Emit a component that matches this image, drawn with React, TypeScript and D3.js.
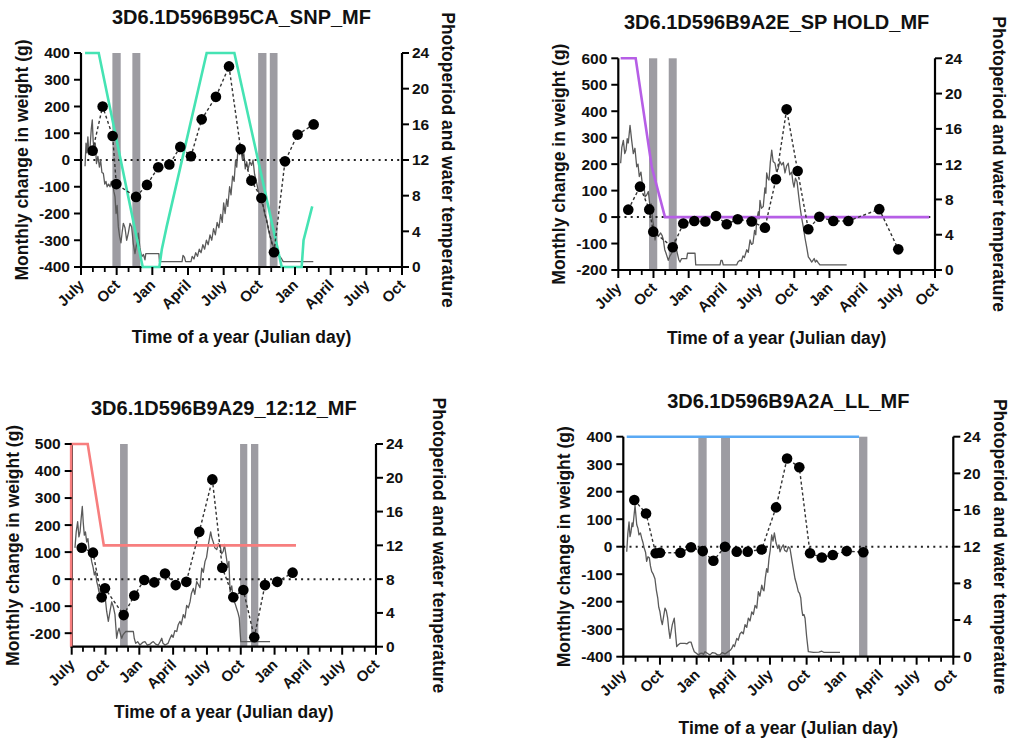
import React from "react";
import * as d3 from "d3";

// Month offsets are counted from the 1st of July of the first year (0..27).
const monthTickLabels = ["July", "Oct", "Jan", "April", "July", "Oct", "Jan", "April", "July", "Oct"];
const rightTicks = [0, 4, 8, 12, 16, 20, 24];

// ---- 3D6.1D596B95CA_SNP_MF ----
const snpWeight: [number, number][] = [
  [0.98, 35], [1.82, 200], [2.66, 90], [2.97, -90], [4.63, -138], [5.55, -93], [6.5, -27],
  [7.43, -17], [8.35, 49], [9.25, 14], [10.15, 152], [11.35, 236], [12.45, 350], [13.43, 41],
  [14.33, -77], [15.17, -142], [16.23, -345], [17.16, -5], [18.22, 95], [19.57, 133],
];
const snpPhoto: [number, number][] = [
  [0.34, 24], [1.49, 24], [5.19, 0], [6.59, 0], [6.8, 2.0], [7.2, 4.5], [10.57, 24], [12.9, 24],
  [16.88, 0], [18.56, 0], [18.72, 3.0], [19.45, 6.8],
];
const snpTemp: [number, number][] = [
  [0.34, 11.3], [0.42, 13.9], [0.5, 12.8], [0.58, 14.6], [0.66, 12.6], [0.76, 13.4], [0.86, 15.4],
  [0.95, 16.5], [1.02, 14.2], [1.1, 13.0], [1.2, 13.9], [1.3, 11.6], [1.42, 12.4], [1.55, 11.2],
  [1.65, 12.0], [1.76, 10.6], [1.88, 10.5], [2.0, 9.3], [2.1, 9.6], [2.2, 9.0], [2.32, 9.3],
  [2.44, 9.0], [2.55, 9.6], [2.67, 9.4], [2.76, 8.5], [2.86, 7.9], [2.95, 6.0], [3.04, 6.9],
  [3.14, 4.5], [3.25, 3.4], [3.36, 2.7], [3.46, 3.9], [3.56, 4.9], [3.7, 4.4], [3.84, 3.0],
  [3.98, 3.8], [4.12, 4.9], [4.26, 4.5], [4.4, 2.6], [4.54, 1.5], [4.68, 2.6], [4.82, 3.8],
  [4.95, 2.2], [5.1, 1.15], [5.25, 1.4], [5.38, 0.8], [5.45, 1.5], [6.55, 1.5], [6.6, 0.6],
  [8.5, 0.6], [8.58, 1.3], [8.7, 1.1], [8.8, 0.6], [9.25, 0.6], [9.35, 1.2], [9.5, 0.9],
  [9.65, 1.6], [9.8, 1.2], [9.95, 2.0], [10.1, 1.6], [10.25, 2.5], [10.4, 2.0], [10.55, 3.0],
  [10.7, 2.5], [10.85, 3.6], [11.0, 3.0], [11.15, 4.3], [11.3, 3.6], [11.45, 5.0], [11.6, 4.4],
  [11.75, 5.9], [11.88, 5.0], [12.0, 7.2], [12.12, 6.0], [12.25, 7.6], [12.35, 6.8], [12.5, 9.0],
  [12.62, 8.1], [12.75, 10.2], [12.88, 9.6], [13.0, 12.0], [13.1, 11.2], [13.22, 13.6],
  [13.32, 12.6], [13.45, 13.1], [13.58, 12.0], [13.7, 12.7], [13.82, 11.0], [13.94, 11.8],
  [14.05, 10.9], [14.2, 11.8], [14.35, 11.4], [14.47, 12.0], [14.6, 10.4], [14.78, 9.4],
  [14.9, 8.6], [15.05, 7.9], [15.2, 7.2], [15.33, 6.8], [15.48, 5.8], [15.62, 5.3], [15.76, 4.2],
  [15.9, 3.4], [16.05, 2.8], [16.18, 2.3], [16.32, 1.9], [16.46, 1.5], [16.6, 1.3], [16.74, 1.15],
  [16.88, 0.9], [17.01, 0.6], [19.54, 0.6],
];
const snpBars: [number, number][] = [[2.64, 3.34], [4.32, 4.99], [14.9, 15.6], [15.88, 16.53]];

// ---- 3D6.1D596B9A2E_SP HOLD_MF ----
const holdWeight: [number, number][] = [
  [0.85, 28], [1.85, 115], [2.64, 29], [2.98, -55], [4.64, -114], [5.54, -24], [6.48, -15],
  [7.42, -17], [8.33, 4], [9.24, -27], [10.18, -8], [11.37, -17], [12.5, -40], [13.44, 143],
  [14.35, 407], [15.29, 174], [16.2, -46], [17.14, 1], [18.33, -15], [19.61, -15], [22.25, 30],
  [23.87, -122],
];
const holdPhoto: [number, number][] = [[0.2, 24], [1.48, 24], [2.85, 11.7], [3.98, 6], [26.5, 6]];
const holdTemp: [number, number][] = [
  [0.2, 12.1], [0.3, 13.9], [0.43, 14.7], [0.55, 13.2], [0.66, 13.6], [0.76, 14.9], [0.85, 14.4],
  [1.0, 16.4], [1.14, 14.7], [1.28, 13.2], [1.42, 13.8], [1.57, 11.7], [1.68, 12.0], [1.79, 10.6],
  [1.93, 11.1], [2.08, 9.4], [2.18, 9.7], [2.28, 8.3], [2.42, 8.5], [2.56, 8.9], [2.7, 7.2],
  [2.8, 7.5], [2.93, 5.7], [3.03, 4.8], [3.13, 3.4], [3.27, 4.3], [3.41, 3.8], [3.61, 4.2],
  [3.74, 3.9], [3.84, 3.4], [3.96, 2.3], [4.07, 1.9], [4.26, 1.1], [4.4, 1.6], [4.55, 1.9],
  [4.7, 2.6], [4.83, 3.4], [4.93, 2.5], [5.03, 1.9], [5.15, 1.2], [5.26, 0.9], [5.4, 1.3],
  [5.83, 1.3], [5.9, 1.9], [6.54, 1.9], [6.6, 0.57], [8.67, 0.57], [8.75, 1.1], [8.85, 1.1],
  [8.95, 0.57], [10.09, 0.57], [10.2, 0.9], [10.37, 1.1], [10.5, 1.0], [10.63, 1.6], [10.75, 1.4],
  [10.95, 2.3], [11.08, 2.0], [11.23, 3.4], [11.36, 2.9], [11.48, 3.0], [11.62, 4.5],
  [11.72, 4.0], [11.8, 5.7], [11.94, 6.6], [12.0, 5.8], [12.08, 7.9], [12.2, 7.0], [12.36, 7.2],
  [12.5, 9.3], [12.58, 8.7], [12.65, 11.0], [12.75, 10.4], [12.85, 10.2], [12.96, 12.2],
  [13.08, 13.6], [13.2, 12.3], [13.36, 12.1], [13.48, 11.2], [13.61, 11.4], [13.78, 12.3],
  [13.93, 11.9], [14.07, 12.2], [14.21, 11.0], [14.35, 11.8], [14.49, 12.1], [14.62, 10.8],
  [14.78, 11.1], [14.88, 10.0], [14.98, 9.4], [15.1, 10.4], [15.24, 10.0], [15.36, 8.6],
  [15.49, 7.2], [15.62, 6.0], [15.77, 4.9], [15.92, 3.6], [16.06, 2.6], [16.2, 1.5],
  [16.35, 1.2], [16.49, 0.9], [16.7, 1.3], [16.8, 0.9], [16.91, 1.1], [17.05, 0.8], [17.2, 0.57],
  [19.47, 0.57],
];
const holdBars: [number, number][] = [[2.62, 3.32], [4.3, 4.98]];

// ---- 3D6.1D596B9A29_12:12_MF ----
const ldWeight: [number, number][] = [
  [0.89, 116], [1.89, 98], [2.66, -67], [2.95, -34], [4.61, -133], [5.55, -61], [6.44, -3],
  [7.33, -12], [8.28, 21], [9.23, -22], [10.17, -10], [11.32, 175], [12.48, 369], [13.36, 42],
  [14.34, -67], [15.23, -40], [16.2, -215], [17.15, -22], [18.24, -10], [19.6, 24],
];
const ldPhoto: [number, number][] = [[-0.05, 0], [-0.05, 24], [1.42, 24], [2.85, 12], [19.9, 12]];
const ldTemp: [number, number][] = [
  [0.29, 11.7], [0.4, 13.6], [0.53, 14.8], [0.64, 13.0], [0.74, 13.6], [0.84, 15.2], [0.94, 16.6],
  [1.03, 14.6], [1.12, 13.2], [1.22, 13.6], [1.33, 12.4], [1.44, 12.8], [1.54, 11.5], [1.66, 11.2],
  [1.77, 10.1], [1.9, 9.4], [2.01, 8.5], [2.12, 8.9], [2.22, 7.7], [2.32, 7.2], [2.42, 6.5],
  [2.55, 6.0], [2.66, 5.3], [2.8, 5.8], [2.95, 6.1], [3.1, 4.2], [3.25, 3.0], [3.4, 4.2],
  [3.55, 5.3], [3.7, 4.7], [3.84, 3.8], [3.92, 2.3], [3.99, 1.0], [4.1, 1.8], [4.2, 2.2],
  [4.32, 1.5], [4.44, 1.0], [4.55, 1.4], [4.67, 1.6], [4.8, 1.8], [5.47, 1.8], [5.55, 1.0],
  [5.68, 0.4], [5.85, 0.6], [6.06, 0.2], [6.3, 0.5], [6.5, 0.6], [6.7, 0.2], [6.95, 0.3],
  [7.1, 0.5], [7.24, 0.6], [7.45, 0.3], [7.68, 0.2], [7.85, 0.6], [7.99, 1.0], [8.1, 0.4],
  [8.28, 0.2], [8.55, 0.4], [8.7, 0.9], [8.87, 1.4], [9.0, 1.1], [9.15, 1.9], [9.32, 1.8],
  [9.45, 2.6], [9.61, 3.0], [9.72, 2.6], [9.9, 3.8], [10.05, 3.4], [10.2, 4.9], [10.35, 4.6],
  [10.5, 5.3], [10.62, 6.3], [10.79, 6.9], [10.92, 6.2], [11.09, 7.7], [11.22, 7.4], [11.38, 7.0],
  [11.54, 9.3], [11.68, 8.8], [11.83, 10.1], [11.97, 10.6], [12.12, 12.05], [12.22, 12.8],
  [12.33, 13.6], [12.45, 12.8], [12.56, 12.4], [12.7, 11.7], [12.87, 11.5], [13.0, 12.2],
  [13.16, 12.0], [13.3, 11.0], [13.45, 11.3], [13.55, 12.1], [13.65, 11.2], [13.75, 10.3],
  [13.85, 9.4], [13.95, 10.1], [14.05, 6.5], [14.2, 7.2], [14.34, 5.5], [14.5, 5.1],
  [14.64, 4.5], [14.76, 4.0], [14.87, 3.4], [14.95, 1.6], [15.0, 0.6], [17.6, 0.6],
];
const ldBars: [number, number][] = [[4.29, 4.97], [14.94, 15.58], [15.91, 16.56]];

// ---- 3D6.1D596B9A2A_LL_MF ----
const llWeight: [number, number][] = [
  [0.9, 170], [1.86, 121], [2.65, -24], [3.0, -22], [4.67, -22], [5.54, -2], [6.5, -16],
  [7.37, -51], [8.32, 0], [9.28, -18], [10.18, -18], [11.32, -10], [12.5, 143], [13.4, 321],
  [14.4, 289], [15.28, -24], [16.24, -39], [17.14, -30], [18.28, -16], [19.64, -20],
];
const llPhoto: [number, number][] = [[0.28, 24], [19.29, 24]];
const llTemp: [number, number][] = [
  [0.28, 11.45], [0.37, 13.4], [0.47, 14.7], [0.55, 13.1], [0.63, 13.6], [0.72, 14.6],
  [0.79, 14.2], [0.96, 16.5], [1.1, 14.4], [1.2, 14.0], [1.28, 13.3], [1.4, 13.5], [1.51, 12.9],
  [1.62, 12.4], [1.72, 11.8], [1.82, 11.4], [1.91, 10.4], [2.02, 10.9], [2.13, 10.8],
  [2.22, 9.9], [2.32, 9.3], [2.45, 9.0], [2.59, 8.5], [2.7, 7.3], [2.82, 6.4], [2.9, 5.4],
  [3.0, 4.9], [3.1, 4.0], [3.19, 3.5], [3.3, 4.4], [3.41, 5.3], [3.52, 5.0], [3.63, 4.2],
  [3.72, 3.0], [3.82, 2.0], [3.92, 2.8], [4.01, 3.5], [4.1, 3.9], [4.17, 4.2], [4.27, 2.6],
  [4.37, 1.1], [4.5, 1.3], [4.64, 1.45], [5.05, 1.45], [5.2, 1.4], [5.4, 1.6], [5.54, 1.6],
  [5.68, 1.0], [5.81, 0.55], [5.95, 0.4], [6.14, 0.2], [6.3, 0.35], [6.44, 0.4], [6.55, 0.25],
  [6.69, 0.55], [6.9, 0.35], [7.09, 0.2], [7.3, 0.45], [7.5, 0.4], [7.7, 0.2], [7.91, 0.2],
  [8.1, 0.45], [8.32, 0.3], [8.59, 0.55], [8.75, 0.7], [8.87, 0.9], [9.0, 1.3], [9.1, 1.1],
  [9.28, 2.0], [9.4, 1.8], [9.55, 2.5], [9.69, 2.7], [9.82, 2.5], [9.96, 3.5], [10.1, 3.2],
  [10.23, 4.2], [10.37, 3.9], [10.51, 4.9], [10.64, 4.6], [10.78, 5.6], [10.92, 5.3],
  [11.05, 7.1], [11.18, 6.6], [11.33, 7.8], [11.43, 7.3], [11.51, 7.2], [11.62, 8.6],
  [11.73, 9.6], [11.82, 9.2], [11.92, 10.7], [12.02, 11.6], [12.14, 13.3], [12.25, 12.6],
  [12.36, 13.5], [12.5, 12.4], [12.64, 11.8], [12.73, 12.2], [12.82, 11.45], [12.95, 11.9],
  [13.09, 12.2], [13.2, 11.6], [13.37, 11.45], [13.5, 12.0], [13.64, 11.8], [13.75, 10.9],
  [13.86, 10.0], [13.96, 9.2], [14.05, 8.5], [14.18, 7.9], [14.32, 7.1], [14.42, 6.9],
  [14.52, 6.4], [14.6, 5.2], [14.68, 4.5], [14.78, 4.6], [14.87, 4.2], [15.0, 2.2],
  [15.14, 0.55], [15.55, 0.48], [16.0, 0.5], [16.24, 0.6], [16.4, 0.48], [17.73, 0.48],
];
const llBars: [number, number][] = [[6.14, 6.82], [8.0, 8.73], [19.29, 19.97]];

type PanelCfg = {
  title: string;
  left: number; right: number; top: number; bottom: number;
  yDomain: [number, number];
  yTicks: number[];
  photoColor: string;
  weight: [number, number][];
  photo: [number, number][];
  temp: [number, number][];
  bars: [number, number][];
  xTitleDy: number;
  rightLabelDx: number;
};

const panels: PanelCfg[] = [
  {
    title: "3D6.1D596B95CA_SNP_MF",
    left: 81, right: 402, top: 53, bottom: 267,
    yDomain: [-400, 400], yTicks: d3.range(-400, 401, 100),
    photoColor: "#45e3b3",
    weight: snpWeight, photo: snpPhoto, temp: snpTemp, bars: snpBars,
    xTitleDy: 70, rightLabelDx: 46,
  },
  {
    title: "3D6.1D596B9A2E_SP HOLD_MF",
    left: 618.3, right: 935, top: 58.3, bottom: 270,
    yDomain: [-200, 600], yTicks: d3.range(-200, 601, 100),
    photoColor: "#b65ee6",
    weight: holdWeight, photo: holdPhoto, temp: holdTemp, bars: holdBars,
    xTitleDy: 68, rightLabelDx: 64,
  },
  {
    title: "3D6.1D596B9A29_12:12_MF",
    left: 71.7, right: 376, top: 444, bottom: 646.7,
    yDomain: [-250, 500], yTicks: d3.range(-200, 501, 100),
    photoColor: "#f77e7e",
    weight: ldWeight, photo: ldPhoto, temp: ldTemp, bars: ldBars,
    xTitleDy: 65, rightLabelDx: 63,
  },
  {
    title: "3D6.1D596B9A2A_LL_MF",
    left: 623.3, right: 953.3, top: 436.7, bottom: 656.7,
    yDomain: [-400, 400], yTicks: d3.range(-400, 401, 100),
    photoColor: "#5aa9f4",
    weight: llWeight, photo: llPhoto, temp: llTemp, bars: llBars,
    xTitleDy: 71, rightLabelDx: 47,
  },
];

const FONT = "'Liberation Sans', Arial, Helvetica, sans-serif";

function Panel({ cfg }: { cfg: PanelCfg }) {
  const x = d3.scaleLinear().domain([0, 27]).range([cfg.left, cfg.right]);
  const yL = d3.scaleLinear().domain(cfg.yDomain).range([cfg.bottom, cfg.top]);
  const yR = d3.scaleLinear().domain([0, 24]).range([cfg.bottom, cfg.top]);

  const rightLine = d3.line<[number, number]>().x((d) => x(d[0])).y((d) => yR(d[1]));
  const leftLine = d3.line<[number, number]>().x((d) => x(d[0])).y((d) => yL(d[1]));

  const midY = (cfg.top + cfg.bottom) / 2;
  const midX = (cfg.left + cfg.right) / 2;
  const majorMonths = d3.range(0, 28, 3);
  const minorMonths = d3.range(0, 28, 1).filter((m) => m % 3 !== 0);

  return (
    <g fontFamily={FONT} fontWeight="bold" fill="#111">
      {/* spawning / handling periods */}
      {cfg.bars.map((b, i) => (
        <rect key={i} x={x(b[0])} y={cfg.top} width={x(b[1]) - x(b[0])}
          height={cfg.bottom - cfg.top} fill="#9d9ca2" />
      ))}
      {/* zero reference */}
      <line x1={cfg.left} x2={cfg.right} y1={yL(0)} y2={yL(0)} stroke="#222"
        strokeWidth={2} strokeDasharray="2,4.2" />
      {/* water temperature */}
      <path d={rightLine(cfg.temp) ?? ""} fill="none" stroke="#5a5a5a" strokeWidth={1.3}
        strokeLinejoin="round" />

      {/* axes */}
      <line x1={cfg.left} x2={cfg.left} y1={cfg.top} y2={cfg.bottom + 1} stroke="#000" strokeWidth={2.2} />
      <line x1={cfg.right} x2={cfg.right} y1={cfg.top} y2={cfg.bottom + 1} stroke="#000" strokeWidth={2.2} />
      <line x1={cfg.left - 1} x2={cfg.right + 1} y1={cfg.bottom} y2={cfg.bottom} stroke="#000" strokeWidth={2.2} />

      {/* photoperiod */}
      <path d={rightLine(cfg.photo) ?? ""} fill="none" stroke={cfg.photoColor} strokeWidth={2.6} />
      {/* monthly weight change */}
      <path d={leftLine(cfg.weight) ?? ""} fill="none" stroke="#333" strokeWidth={1.4}
        strokeDasharray="3,2.5" />
      {cfg.weight.map((d, i) => (
        <circle key={i} cx={x(d[0])} cy={yL(d[1])} r={5.3} fill="#000" />
      ))}

      {cfg.yTicks.map((t) => (
        <g key={"l" + t}>
          <line x1={cfg.left - 7} x2={cfg.left} y1={yL(t)} y2={yL(t)} stroke="#000" strokeWidth={2} />
          <text x={cfg.left - 11} y={yL(t)} dy="0.35em" textAnchor="end" fontSize={15.5}>{t}</text>
        </g>
      ))}
      {rightTicks.map((t) => (
        <g key={"r" + t}>
          <line x1={cfg.right} x2={cfg.right + 7} y1={yR(t)} y2={yR(t)} stroke="#000" strokeWidth={2} />
          <text x={cfg.right + 10} y={yR(t)} dy="0.35em" textAnchor="start" fontSize={15.5}>{t}</text>
        </g>
      ))}
      {majorMonths.map((m, i) => (
        <g key={"mx" + m}>
          <line x1={x(m)} x2={x(m)} y1={cfg.bottom} y2={cfg.bottom + 8} stroke="#000" strokeWidth={2} />
          <text transform={`translate(${x(m) + 4},${cfg.bottom + 19}) rotate(-45)`}
            textAnchor="end" fontSize={15}>{monthTickLabels[i]}</text>
        </g>
      ))}
      {minorMonths.map((m) => (
        <line key={"nx" + m} x1={x(m)} x2={x(m)} y1={cfg.bottom} y2={cfg.bottom + 5}
          stroke="#000" strokeWidth={1.8} />
      ))}

      {/* titles */}
      <text x={midX} y={cfg.top - 36} dy="0.35em" textAnchor="middle" fontSize={20}>{cfg.title}</text>
      <text x={midX} y={cfg.bottom + cfg.xTitleDy} dy="0.35em" textAnchor="middle" fontSize={17.5}>
        Time of a year (Julian day)
      </text>
      <text transform={`translate(${cfg.left - 59},${midY}) rotate(-90)`} dy="0.35em"
        textAnchor="middle" fontSize={17.5}>Monthly change in weight (g)</text>
      <text transform={`translate(${cfg.right + cfg.rightLabelDx},${midY}) rotate(90)`} dy="0.35em"
        textAnchor="middle" fontSize={17.5}>Photoperiod and water temperature</text>
    </g>
  );
}

export default function App() {
  return (
    <svg width={1010} height={740} viewBox="0 0 1010 740"
      style={{ position: "absolute", left: 0, top: 0, background: "#fff" }}>
      <rect width={1010} height={740} fill="#fff" />
      {panels.map((p) => (
        <Panel key={p.title} cfg={p} />
      ))}
    </svg>
  );
}
